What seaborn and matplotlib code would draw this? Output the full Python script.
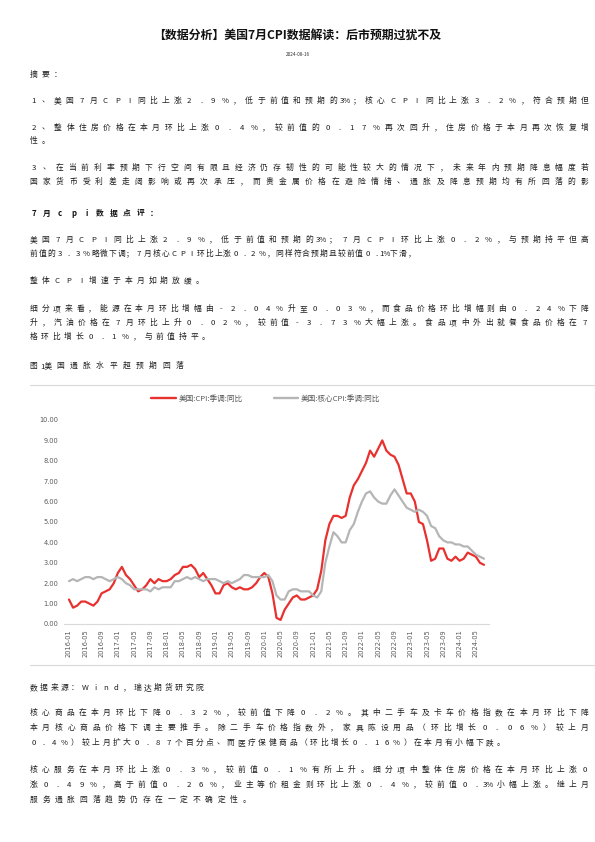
import matplotlib
matplotlib.use('Agg')
import matplotlib.pyplot as plt
import seaborn as sns
import pandas as pd
from matplotlib.lines import Line2D

# ---------------- data ----------------
months = [p.strftime('%Y-%m') for p in pd.period_range('2016-01', '2024-07', freq='M')]
cpi = [1.2, 0.8, 0.9, 1.1, 1.1, 1.0, 0.9, 1.1, 1.5, 1.6, 1.7, 2.0,
       2.5, 2.8, 2.4, 2.2, 1.9, 1.6, 1.7, 1.9, 2.2, 2.0, 2.2, 2.1,
       2.1, 2.2, 2.4, 2.5, 2.8, 2.8, 2.9, 2.7, 2.3, 2.5, 2.2, 1.9,
       1.5, 1.5, 1.9, 2.0, 1.8, 1.7, 1.8, 1.7, 1.7, 1.8, 2.0, 2.3,
       2.5, 2.3, 1.5, 0.3, 0.2, 0.7, 1.0, 1.3, 1.4, 1.2, 1.2, 1.3,
       1.4, 1.7, 2.6, 4.1, 4.9, 5.3, 5.3, 5.2, 5.3, 6.2, 6.8, 7.1,
       7.5, 7.9, 8.5, 8.2, 8.6, 9.0, 8.5, 8.3, 8.2, 7.8, 7.1, 6.4,
       6.4, 6.0, 5.0, 4.9, 4.1, 3.1, 3.2, 3.7, 3.7, 3.2, 3.1, 3.3,
       3.1, 3.2, 3.5, 3.4, 3.3, 3.0, 2.9]
core = [2.1, 2.2, 2.1, 2.2, 2.3, 2.3, 2.2, 2.3, 2.3, 2.2, 2.1, 2.2,
        2.3, 2.2, 2.0, 1.9, 1.7, 1.7, 1.7, 1.7, 1.6, 1.8, 1.7, 1.8,
        1.8, 1.8, 2.1, 2.1, 2.2, 2.3, 2.2, 2.3, 2.2, 2.1, 2.2, 2.2,
        2.2, 2.1, 2.0, 2.1, 2.0, 2.1, 2.2, 2.4, 2.4, 2.3, 2.3, 2.3,
        2.3, 2.4, 2.1, 1.4, 1.2, 1.2, 1.6, 1.7, 1.7, 1.6, 1.6, 1.6,
        1.4, 1.3, 1.6, 3.0, 3.8, 4.5, 4.3, 4.0, 4.0, 4.6, 4.9, 5.5,
        6.0, 6.4, 6.5, 6.2, 6.0, 5.9, 5.9, 6.3, 6.6, 6.3, 6.0, 5.7,
        5.6, 5.5, 5.6, 5.5, 5.3, 4.8, 4.7, 4.3, 4.1, 4.0, 4.0, 3.9,
        3.9, 3.8, 3.8, 3.6, 3.4, 3.3, 3.2]
series_names = ['美国:CPI:季调:同比', '美国:核心CPI:季调:同比']
yticks = [0, 1, 2, 3, 4, 5, 6, 7, 8, 9, 10]

# ---------------- page text ----------------
title = '【数据分析】美国7月CPI数据解读：后市预期过犹不及'
date = '2024-08-16'
# (text, y, x_last)  {..} = compact token
lines = [
    ('摘要：', 75, 54),
    ('1、美国7月CPI同比上涨2.9%，低于前值和预期的{3%}；核心CPI同比上涨3.2%，符合预期但', 101, 581),
    ('2、整体住房价格在本月环比上涨0.4%，较前值的0.17%再次回升，住房价格于本月再次恢复增', 128, 581),
    ('性。', 141, 42),
    ('3、在当前利率预期下行空间有限且经济仍存韧性的可能性较大的情况下，未来年内预期降息幅度若', 168, 581),
    ('国家货币受利差走阔影响或再次承压，而贵金属价格在避险情绪、通胀及降息预期均有所回落的影', 182, 581),
    ('美国7月CPI同比上涨2.9%，低于前值和预期的{3%}；7月CPI环比上涨0.2%，与预期持平但高', 240, 581),
    ('前值的3.3%略微下调；7月核心CPI环比上涨0.2%，同样符合预期且较前值0.{1%}下滑，', 254, 408),
    ('整体CPI增速于本月如期放缓。', 281, 196),
    ('细分项来看，能源在本月环比增幅由-2.04%升至0.03%，而食品价格环比增幅则由0.24%下降', 309, 581),
    ('升，汽油价格在7月环比上升0.02%，较前值-3.73%大幅上涨。食品项中外出就餐食品价格在7', 323, 581),
    ('格环比增长0.1%，与前值持平。', 337, 202),
    ('{图}{1美}国通胀水平超预期回落', 366, 176),
    ('数据来源：Wind，瑞达期货研究院', 688, 196),
    ('核心商品在本月环比下降0.32%，较前值下降0.2%。其中二手车及卡车价格指数在本月环比下降', 713, 581),
    ('本月核心商品价格下调主要推手。除二手车价格指数外，家具陈设用品（环比增长0.06%）较上月', 728, 581),
    ('0.4%）较上月扩大0.87个百分点、而医疗保健商品（环比增长0.16%）在本月有小幅下跌。', 743, 497),
    ('核心服务在本月环比上涨0.3%，较前值0.1%有所上升。细分项中整体住房价格在本月环比上涨0', 770, 581),
    ('涨0.49%，高于前值0.26%，业主等价租金则环比上涨0.4%，较前值0.{3%}小幅上涨。继上月', 785, 581),
    ('服务通胀回落趋势仍存在一定不确定性。', 800, 243),
]
heading = ('7月cpi数据点评：', 213, 150)

sns.set_theme(style='white')
plt.rcParams['font.family'] = ['Noto Sans CJK SC', 'DejaVu Sans']

W, H = 595, 842
fig = plt.figure(figsize=(W / 100, H / 100), dpi=100)
fig.patch.set_facecolor('white')


def tok(s):
    out, i = [], 0
    while i < len(s):
        if s[i] == '{':
            j = s.index('}', i)
            out.append(s[i + 1:j])
            i = j + 1
        else:
            out.append(s[i])
            i += 1
    return out


def draw_line(s, y, x_last, size=5.6, weight='normal', color='#1e1e1e', x0=30):
    tokens = tok(s)
    n = len(tokens)
    pitch = (x_last - x0) / max(n - 1, 1)
    for k, t in enumerate(tokens):
        xc = x0 + k * pitch + 3.5
        fig.text(xc / W, 1 - y / H, t, fontsize=size, weight=weight, color=color,
                 ha='center', va='center')


fig.text(0.5, 1 - 35 / H, title, fontsize=8.6, weight='bold', color='#111111',
         ha='center', va='center')
fig.text(0.5, 1 - 54 / H, date, fontsize=3.4, color='#333333', ha='center', va='center')
for s, y, xl in lines:
    draw_line(s, y, xl)
draw_line(heading[0], heading[1], heading[2], weight='bold', color='#111111')

# chart frame lines
for yy in (385, 665):
    fig.add_artist(Line2D([30 / W, 1.0], [1 - yy / H, 1 - yy / H], color='#D9D9D9', lw=0.8))

# ---------------- chart ----------------
left, right, top, bottom = 64, 489, 420, 624
ax = fig.add_axes([left / W, 1 - bottom / H, (right - left) / W, (bottom - top) / H])

df = pd.DataFrame({
    'idx': list(range(len(months))) * 2,
    'value': cpi + core,
    'series': [series_names[0]] * len(months) + [series_names[1]] * len(months),
})
sns.lineplot(data=df, x='idx', y='value', hue='series', hue_order=series_names,
             palette=['#E8312F', '#B5B5B5'], linewidth=1.6, ax=ax, legend=False)

ax.set_xlim(-5 / 4.069, len(months) - 1 + 5 / 4.069)
ax.set_ylim(0, 10)
ax.set_yticks(yticks)
ax.set_yticklabels([f'{v:.2f}' for v in yticks], fontsize=4.8, color='#595959',
                   family=['DejaVu Sans'])
ax.set_xticks(list(range(0, len(months), 4)))
ax.set_xticklabels(months[::4], rotation=90, fontsize=4.8, color='#595959',
                   family=['DejaVu Sans'])
ax.tick_params(axis='both', length=0, pad=4)
ax.set_xlabel('')
ax.set_ylabel('')
for sp in ['top', 'right', 'left']:
    ax.spines[sp].set_visible(False)
ax.spines['bottom'].set_color('#D9D9D9')
ax.spines['bottom'].set_linewidth(0.8)
ax.set_facecolor('white')

handles = [Line2D([], [], color='#E8312F', lw=1.7), Line2D([], [], color='#B5B5B5', lw=1.7)]
fig.legend(handles, series_names, loc='center', bbox_to_anchor=(266 / W, 1 - 399 / H),
           ncol=2, frameon=False, fontsize=5.5, labelcolor='#595959',
           handlelength=3.2, columnspacing=4.0, handletextpad=0.4)

fig.savefig('out.png', dpi=100, facecolor='white')
